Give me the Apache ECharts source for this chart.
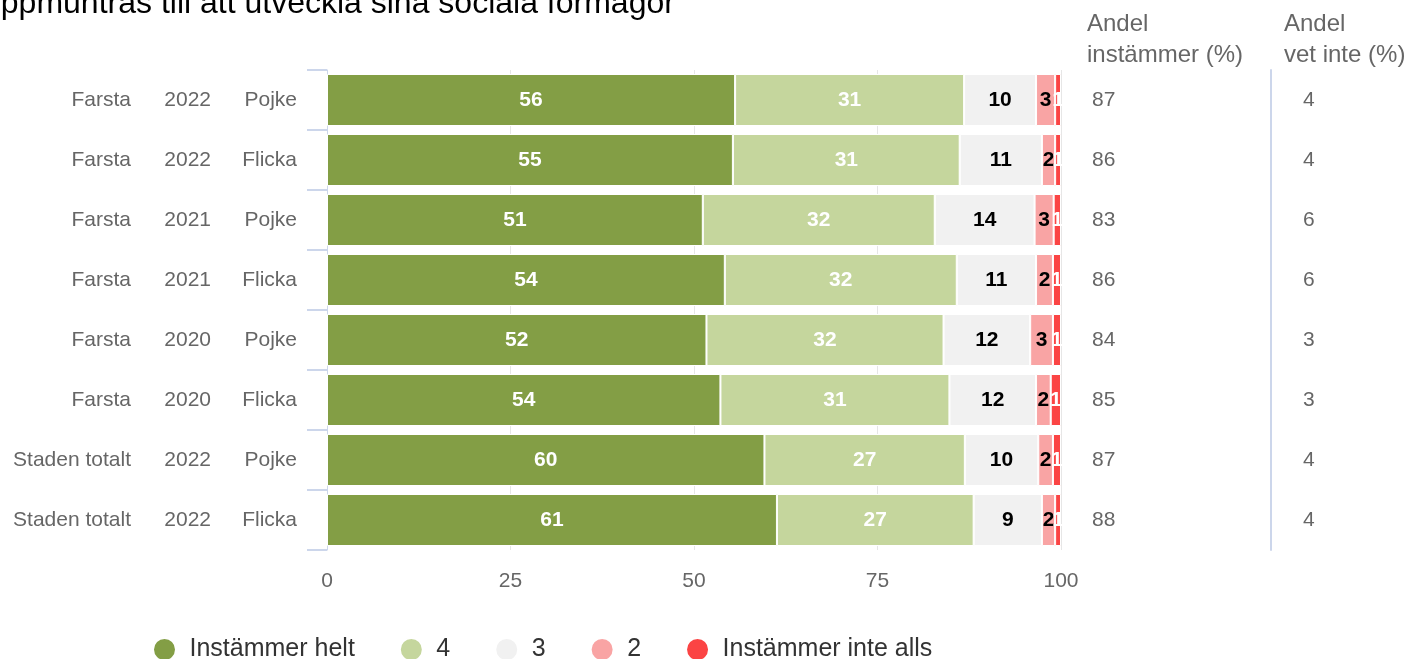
<!DOCTYPE html>
<html lang="sv">
  <head>
    <meta charset="UTF-8" />
    <title>Sociala förmågor</title>
    <script src="https://cdn.jsdelivr.net/npm/echarts@6/dist/echarts.min.js"></script>
    <style>
      html, body { margin: 0; padding: 0; background: #fff; }
    </style>
  </head>
  <body>
    <div id="chart" style="width: 1410px; height: 659px"></div>

    <script type="text/javascript">
      // Data
      const places = ["Farsta", "Farsta", "Farsta", "Farsta", "Farsta", "Farsta", "Staden totalt", "Staden totalt"];
      const years = ["2022", "2022", "2021", "2021", "2020", "2020", "2022", "2022"];
      const genders = ["Pojke", "Flicka", "Pojke", "Flicka", "Pojke", "Flicka", "Pojke", "Flicka"];

      const seriesNames = ["Instämmer helt", "4", "3", "2", "Instämmer inte alls"];
      const helt = [55.6, 55.3, 51.2, 54.2, 51.7, 53.6, 59.6, 61.3];
      const fyra = [31.2, 30.9, 31.6, 31.6, 32.3, 31.2, 27.3, 26.8];
      const tre = [9.8, 11.2, 13.6, 10.8, 11.8, 11.8, 10.0, 9.3];
      const tva = [2.6, 1.8, 2.6, 2.3, 3.1, 2.0, 2.0, 1.8];
      const inteAlls = [0.8, 0.8, 1.0, 1.1, 1.1, 1.4, 1.1, 0.8];

      const andelInstammer = [87, 86, 83, 86, 84, 85, 87, 88];
      const andelVetInte = [4, 4, 6, 6, 3, 3, 4, 4];

      const colors = ["#839e45", "#c5d69d", "#f1f1f1", "#f9a4a4", "#fb4444"];
      const labelColors = ["#ffffff", "#ffffff", "#000000", "#000000", "#ffffff"];

      const categories = places.map((p, i) => p + " " + years[i] + " " + genders[i]);
      const font = "Arial, 'Liberation Sans', sans-serif";
      const gray = "#666666";

      let chart = echarts.init(document.getElementById("chart"));

      const values = [helt, fyra, tre, tva, inteAlls];
      const series = values.map((data, k) => ({
        name: seriesNames[k],
        type: "bar",
        stack: "total",
        xAxisIndex: 0,
        yAxisIndex: 0,
        barWidth: 52,
        data: data,
        itemStyle: { color: colors[k], borderColor: "#ffffff", borderWidth: 1 },
        label: {
          show: true,
          position: "inside",
          color: labelColors[k],
          fontFamily: font,
          fontWeight: "bold",
          fontSize: 21,
          formatter: (p) => Math.round(p.value),
        },
        emphasis: { disabled: true },
      }));

      // one category axis per text column on the left, labels right-aligned
      const leftColumn = (labels, margin, withLine) => ({
        gridIndex: 0,
        type: "category",
        inverse: true,
        position: "left",
        data: categories,
        axisLine: { show: withLine, lineStyle: { color: "#ccd6eb", width: 1 } },
        axisTick: { show: withLine, length: 20, lineStyle: { color: "#ccd6eb", width: 2 } },
        splitLine: { show: false },
        axisLabel: {
          margin: margin,
          color: gray,
          fontSize: 21,
          fontFamily: font,
          formatter: (v, i) => labels[i],
        },
      });

      const option = {
        animation: false,
        color: colors,
        textStyle: { fontFamily: font },
        grid: [
          { left: 327, top: 70, width: 734, height: 480, containLabel: false },
          { left: 1271, top: 70, width: 100, height: 480, containLabel: false },
        ],
        xAxis: [
          {
            gridIndex: 0,
            type: "value",
            min: 0,
            max: 100,
            interval: 25,
            axisLine: { show: false },
            axisTick: { show: false },
            splitLine: { lineStyle: { color: "#e6e6e6", width: 1 } },
            axisLabel: { color: gray, fontSize: 21, fontFamily: font, margin: 21 },
          },
          { gridIndex: 1, type: "value", min: 0, max: 1, show: false },
        ],
        yAxis: [
          leftColumn(genders, 30, true),
          leftColumn(years, 116, false),
          leftColumn(places, 196, false),
          {
            gridIndex: 0,
            type: "category",
            inverse: true,
            position: "right",
            data: categories,
            axisLine: { show: false },
            axisTick: { show: false },
            axisLabel: {
              margin: 31,
              color: gray,
              fontSize: 21,
              fontFamily: font,
              formatter: (v, i) => String(andelInstammer[i]),
            },
          },
          {
            gridIndex: 1,
            type: "category",
            inverse: true,
            position: "left",
            data: categories,
            axisLine: { show: true, lineStyle: { color: "#ccd6eb", width: 2 } },
            axisTick: { show: false },
            axisLabel: {
              inside: true,
              margin: 32,
              color: gray,
              fontSize: 21,
              fontFamily: font,
              formatter: (v, i) => String(andelVetInte[i]),
            },
          },
        ],
        legend: {
          left: 147,
          top: 632,
          icon: "circle",
          itemWidth: 40,
          itemHeight: 23,
          itemGap: 44,
          data: seriesNames,
          textStyle: { color: "#333333", fontSize: 25, fontFamily: font },
          selectedMode: false,
        },
        graphic: [
          {
            type: "text",
            left: -17,
            top: -12,
            style: {
              text: "uppmuntras till att utveckla sina sociala förmågor",
              fill: "#000000",
              font: "32px " + font,
            },
          },
          {
            type: "text",
            left: 1087,
            top: 9,
            style: { text: "Andel\ninstämmer (%)", fill: gray, font: "24px " + font, lineHeight: 31 },
          },
          {
            type: "text",
            left: 1284,
            top: 9,
            style: { text: "Andel\nvet inte (%)", fill: gray, font: "24px " + font, lineHeight: 31 },
          },
        ],
        series: series,
      };

      chart.setOption(option);
    </script>
  </body>
</html>
